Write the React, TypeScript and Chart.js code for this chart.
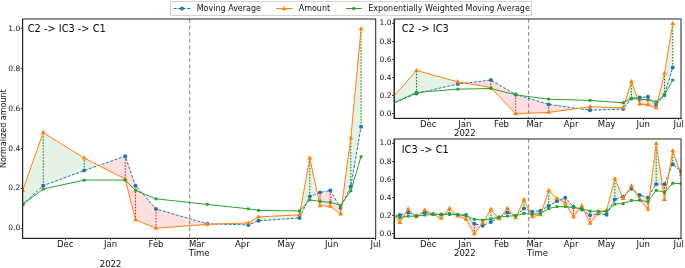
import React, { useEffect, useRef } from 'react';
import { Chart, registerables } from 'chart.js';
Chart.register(...registerables);

const FONT = 'DejaVu Sans';
const BLUE = '#1f77b4';
const ORANGE = '#ff7f0e';
const GREEN = '#2ca02c';
const FILL_ABOVE = 'rgba(0,128,0,0.10)';
const FILL_BELOW = 'rgba(255,0,0,0.12)';

// ---- Left panel: C2 -> IC3 -> C1
const LEFT_DATES = ['2021-11-02', '2021-11-16', '2021-12-14', '2022-01-11', '2022-01-18', '2022-02-01', '2022-03-08', '2022-04-05', '2022-04-12', '2022-05-10', '2022-05-17', '2022-05-24', '2022-05-31', '2022-06-07', '2022-06-14', '2022-06-21'];
const LEFT_AMOUNT = [0.19, 0.48, 0.352, 0.247, 0.043, 0.0, 0.02, 0.027, 0.057, 0.068, 0.352, 0.113, 0.11, 0.072, 0.452, 1.0];
const LEFT_MA = [0.12, 0.214, 0.29, 0.362, 0.214, 0.097, 0.023, 0.017, 0.038, 0.052, 0.16, 0.18, 0.19, 0.102, 0.21, 0.51];
const LEFT_EWMA = [0.12, 0.197, 0.242, 0.242, 0.19, 0.148, 0.12, 0.098, 0.09, 0.087, 0.143, 0.135, 0.13, 0.115, 0.188, 0.36];

// ---- Top right: C2 -> IC3
const TOP_DATES = ['2021-10-31', '2021-11-21', '2021-12-26', '2022-01-23', '2022-02-13', '2022-03-13', '2022-04-17', '2022-05-15', '2022-05-22', '2022-05-29', '2022-06-05', '2022-06-12', '2022-06-19', '2022-06-26'];
const TOP_AMOUNT = [0.166, 0.48, 0.354, 0.29, 0.0, 0.015, 0.078, 0.066, 0.354, 0.107, 0.1, 0.066, 0.447, 1.0];
const TOP_MA = [0.109, 0.225, 0.33, 0.373, 0.215, 0.104, 0.04, 0.052, 0.17, 0.18, 0.188, 0.096, 0.207, 0.513];
const TOP_EWMA = [0.108, 0.236, 0.273, 0.28, 0.21, 0.162, 0.148, 0.122, 0.17, 0.16, 0.155, 0.133, 0.207, 0.373];

// ---- Bottom right: IC3 -> C1
const BOT_DATES = ['2021-10-31', '2021-11-07', '2021-11-14', '2021-11-21', '2021-11-28', '2021-12-05', '2021-12-12', '2021-12-19', '2021-12-26', '2022-01-02', '2022-01-09', '2022-01-16', '2022-01-23', '2022-01-30', '2022-02-06', '2022-02-13', '2022-02-20', '2022-02-27', '2022-03-06', '2022-03-13', '2022-03-20', '2022-03-27', '2022-04-03', '2022-04-10', '2022-04-17', '2022-04-24', '2022-05-01', '2022-05-08', '2022-05-15', '2022-05-22', '2022-05-29', '2022-06-05', '2022-06-12', '2022-06-19', '2022-06-26', '2022-07-03'];
const BOT_AMOUNT = [0.236, 0.125, 0.273, 0.188, 0.262, 0.218, 0.17, 0.28, 0.196, 0.16, 0.0, 0.12, 0.27, 0.165, 0.28, 0.177, 0.38, 0.188, 0.21, 0.48, 0.39, 0.34, 0.185, 0.31, 0.115, 0.235, 0.26, 0.61, 0.39, 0.53, 0.38, 0.27, 1.0, 0.38, 0.92, 0.66];
const BOT_MA = [0.207, 0.207, 0.236, 0.196, 0.236, 0.218, 0.214, 0.218, 0.207, 0.207, 0.11, 0.089, 0.13, 0.18, 0.235, 0.2, 0.28, 0.245, 0.255, 0.31, 0.36, 0.4, 0.3, 0.27, 0.205, 0.225, 0.21, 0.38, 0.41, 0.5, 0.43, 0.4, 0.55, 0.55, 0.77, 0.69];
const BOT_EWMA = [0.21, 0.18, 0.195, 0.195, 0.207, 0.214, 0.214, 0.218, 0.214, 0.2, 0.159, 0.151, 0.165, 0.185, 0.195, 0.2, 0.225, 0.215, 0.225, 0.28, 0.3, 0.3, 0.29, 0.28, 0.25, 0.25, 0.25, 0.33, 0.335, 0.37, 0.37, 0.355, 0.48, 0.46, 0.56, 0.555];

const MONTH_TICKS = ['2021-12-01', '2022-01-01', '2022-02-01', '2022-03-01', '2022-04-01', '2022-05-01', '2022-06-01', '2022-07-01'];
const MONTH_LABELS = ['Dec', 'Jan', 'Feb', 'Mar', 'Apr', 'May', 'Jun', 'Jul'];
const YEAR_TICK = '2022-01-01';
const YEAR_LABEL = '2022';
const Y_TICKS = [0, 0.2, 0.4, 0.6, 0.8, 1.0];
const EVENT_DATE = '2022-02-24';
const LEGEND_LABELS = ['Moving Average', 'Amount', 'Exponentially Weighted Moving Average'];

const day = (s: string) =>
  (Date.UTC(+s.slice(0, 4), +s.slice(5, 7) - 1, +s.slice(8, 10)) - Date.UTC(2021, 11, 1)) / 86400000;

type PanelProps = {
  title: string;
  dates: string[];
  amount: number[];
  ma: number[];
  ewma: number[];
  xMin: string;
  xMax: string;
  left: number;
  top: number;
  width: number;
  height: number;
  padding: { left: number; top: number; right: number; bottom: number };
  yAxisWidth: number;
  xAxisHeight: number;
  yTitle?: string;
  xTitle?: string;
  xTitlePad?: number;
  yearInTicks: boolean;
  yearBelowY?: number;
  titleDx: number;
  titleDy: number;
};

function Panel(p: PanelProps) {
  const ref = useRef<HTMLCanvasElement | null>(null);
  useEffect(() => {
    if (!ref.current) return;
    const xs = p.dates.map(day);
    const pts = (vals: number[]) => vals.map((v, i) => ({ x: xs[i], y: v }));
    const tickFont = { family: FONT, size: 8.5, lineHeight: 1.05 };
    const gridOpts = { drawOnChartArea: false, drawTicks: true, tickLength: 2, color: '#222', lineWidth: 0.8 };
    const borderOpts = { display: true, color: '#222', width: 1 };

    const decor = {
      id: 'decor',
      beforeDatasetsDraw(chart: any) {
        const { ctx, chartArea: a, scales } = chart;
        const x = scales.x, y = scales.y;
        ctx.save();
        ctx.beginPath();
        ctx.rect(a.left, a.top, a.right - a.left, a.bottom - a.top);
        ctx.clip();
        const ex = x.getPixelForValue(day(EVENT_DATE));
        ctx.strokeStyle = '#8a8a8a';
        ctx.lineWidth = 1;
        ctx.setLineDash([4, 2.5]);
        ctx.beginPath();
        ctx.moveTo(ex, a.top);
        ctx.lineTo(ex, a.bottom);
        ctx.stroke();
        ctx.setLineDash([1.5, 1.5]);
        xs.forEach((xv, i) => {
          const px = x.getPixelForValue(xv);
          ctx.strokeStyle = p.amount[i] >= p.ma[i] ? '#008000' : '#ff0000';
          ctx.beginPath();
          ctx.moveTo(px, y.getPixelForValue(p.ma[i]));
          ctx.lineTo(px, y.getPixelForValue(p.amount[i]));
          ctx.stroke();
        });
        ctx.restore();
      },
      afterDraw(chart: any) {
        const { ctx, chartArea: a, scales } = chart;
        ctx.save();
        ctx.strokeStyle = '#222';
        ctx.lineWidth = 1;
        ctx.setLineDash([]);
        ctx.strokeRect(a.left, a.top, a.right - a.left, a.bottom - a.top);
        ctx.fillStyle = '#000';
        ctx.font = `9.8px "${FONT}"`;
        ctx.textBaseline = 'middle';
        ctx.textAlign = 'left';
        ctx.fillText(p.title, a.left + p.titleDx, a.top + p.titleDy);
        if (p.yearBelowY !== undefined) {
          ctx.font = `8.5px "${FONT}"`;
          ctx.textAlign = 'center';
          ctx.fillStyle = '#111';
          ctx.fillText(YEAR_LABEL, scales.x.getPixelForValue(day(YEAR_TICK)), p.yearBelowY);
        }
        ctx.restore();
      },
    };

    const chart = new Chart(ref.current, {
      type: 'line',
      data: {
        datasets: [
          {
            label: LEGEND_LABELS[0],
            data: pts(p.ma),
            borderColor: BLUE,
            backgroundColor: BLUE,
            borderWidth: 1,
            borderDash: [3, 1.5],
            pointStyle: 'circle',
            pointRadius: 2,
            pointBorderWidth: 0,
            fill: false,
            order: 3,
          },
          {
            label: LEGEND_LABELS[1],
            data: pts(p.amount),
            borderColor: ORANGE,
            backgroundColor: ORANGE,
            borderWidth: 1,
            pointStyle: 'triangle',
            pointRadius: 2.8,
            pointBorderWidth: 0,
            fill: { target: 0, above: FILL_ABOVE, below: FILL_BELOW },
            order: 2,
          },
          {
            label: LEGEND_LABELS[2],
            data: pts(p.ewma),
            borderColor: GREEN,
            backgroundColor: GREEN,
            borderWidth: 1,
            pointStyle: 'rect',
            pointRadius: 2,
            pointBorderWidth: 0,
            fill: false,
            order: 1,
          },
        ],
      } as any,
      options: {
        animation: false,
        responsive: false,
        devicePixelRatio: 1,
        events: [],
        layout: { padding: p.padding },
        plugins: { legend: { display: false }, tooltip: { enabled: false } },
        scales: {
          x: {
            type: 'linear',
            min: day(p.xMin),
            max: day(p.xMax),
            afterBuildTicks: (s: any) => {
              s.ticks = MONTH_TICKS.map((d) => ({ value: day(d) })).filter((t) => t.value >= s.min && t.value <= s.max);
            },
            afterFit: (s: any) => {
              s.height = p.xAxisHeight;
              s.paddingLeft = 0;
              s.paddingRight = 0;
            },
            ticks: {
              autoSkip: false,
              maxRotation: 0,
              minRotation: 0,
              padding: 0,
              color: '#111',
              font: tickFont,
              callback: (v: any) => {
                const i = MONTH_TICKS.findIndex((d) => day(d) === v);
                if (i < 0) return '';
                if (p.yearInTicks && MONTH_TICKS[i] === YEAR_TICK) return [MONTH_LABELS[i], YEAR_LABEL];
                return MONTH_LABELS[i];
              },
            },
            grid: gridOpts,
            border: borderOpts,
            title: p.xTitle
              ? {
                  display: true,
                  text: p.xTitle,
                  color: '#111',
                  font: { family: FONT, size: 8.5, lineHeight: 1.2 },
                  padding: { top: 0, bottom: p.xTitlePad ?? 0 },
                }
              : { display: false },
          },
          y: {
            type: 'linear',
            min: -0.05,
            max: 1.05,
            afterBuildTicks: (s: any) => {
              s.ticks = Y_TICKS.map((v) => ({ value: v }));
            },
            afterFit: (s: any) => {
              s.width = p.yAxisWidth;
              s.paddingTop = 0;
              s.paddingBottom = 0;
            },
            ticks: {
              padding: 0.5,
              color: '#111',
              font: { family: FONT, size: 7.5 },
              callback: (v: any) => Number(v).toFixed(1),
            },
            grid: gridOpts,
            border: borderOpts,
            title: p.yTitle
              ? {
                  display: true,
                  text: p.yTitle,
                  color: '#111',
                  font: { family: FONT, size: 8, lineHeight: 1.0 },
                  padding: 0,
                }
              : { display: false },
          },
        },
      } as any,
      plugins: [decor],
    });
    return () => chart.destroy();
  }, []);
  return (
    <canvas
      ref={ref}
      width={p.width}
      height={p.height}
      style={{ position: 'absolute', left: p.left, top: p.top, width: p.width, height: p.height }}
    />
  );
}

function Legend() {
  const textStyle: React.CSSProperties = {
    position: 'absolute',
    top: 0,
    lineHeight: '13px',
    fontSize: 8,
    fontFamily: FONT,
    color: '#111',
    whiteSpace: 'nowrap',
  };
  return (
    <div
      style={{
        position: 'absolute',
        left: 170,
        top: 0.5,
        width: 360,
        height: 13,
        border: '1px solid rgba(200,200,200,0.8)',
        borderRadius: 2,
        background: 'rgba(255,255,255,0.85)',
        zIndex: 5,
      }}
    >
      <svg width={360} height={13} style={{ position: 'absolute', left: 0, top: 0 }}>
        <line x1={2.7} x2={19.3} y1={6.5} y2={6.5} stroke={BLUE} strokeWidth={1} strokeDasharray="3 1.5" />
        <circle cx={11} cy={6.5} r={2} fill={BLUE} />
        <line x1={105} x2={121.7} y1={6.5} y2={6.5} stroke={ORANGE} strokeWidth={1} />
        <polygon points="113.3,4 115.8,8.2 110.8,8.2" fill={ORANGE} />
        <line x1={175} x2={190.7} y1={6.5} y2={6.5} stroke={GREEN} strokeWidth={1} />
        <rect x={181.4} y={5.1} width={2.8} height={2.8} fill={GREEN} />
      </svg>
      <span style={{ ...textStyle, left: 25.7 }}>{LEGEND_LABELS[0]}</span>
      <span style={{ ...textStyle, left: 127.7 }}>{LEGEND_LABELS[1]}</span>
      <span style={{ ...textStyle, left: 197.3 }}>{LEGEND_LABELS[2]}</span>
    </div>
  );
}

export default function App() {
  return (
    <div
      style={{
        position: 'fixed',
        left: 0,
        top: 0,
        width: 685,
        height: 268,
        background: '#fff',
        overflow: 'hidden',
      }}
    >
      <Panel
        title="C2 -> IC3 -> C1"
        dates={LEFT_DATES}
        amount={LEFT_AMOUNT}
        ma={LEFT_MA}
        ewma={LEFT_EWMA}
        xMin="2021-11-02"
        xMax="2022-07-01"
        left={0}
        top={0}
        width={385}
        height={268}
        padding={{ left: 0, top: 19, right: 9.3, bottom: 0 }}
        yAxisWidth={22.7}
        xAxisHeight={29.7}
        yTitle="Normalized amount"
        xTitle="Time"
        xTitlePad={9.0}
        yearInTicks={false}
        yearBelowY={265}
        titleDx={5}
        titleDy={10.7}
      />
      <Panel
        title="C2 -> IC3"
        dates={TOP_DATES}
        amount={TOP_AMOUNT}
        ma={TOP_MA}
        ewma={TOP_EWMA}
        xMin="2021-11-02"
        xMax="2022-07-03"
        left={376}
        top={0}
        width={309}
        height={140}
        padding={{ left: 0, top: 19, right: 3.5, bottom: 0 }}
        yAxisWidth={18}
        xAxisHeight={21.7}
        yearInTicks={true}
        titleDx={7.7}
        titleDy={10.3}
      />
      <Panel
        title="IC3 -> C1"
        dates={BOT_DATES}
        amount={BOT_AMOUNT}
        ma={BOT_MA}
        ewma={BOT_EWMA}
        xMin="2021-11-02"
        xMax="2022-07-03"
        left={376}
        top={135}
        width={309}
        height={133}
        padding={{ left: 0, top: 4, right: 3.5, bottom: 0 }}
        yAxisWidth={18}
        xAxisHeight={29.7}
        xTitle="Time"
        xTitlePad={9.6}
        yearInTicks={true}
        titleDx={7.7}
        titleDy={11.5}
      />
      <Legend />
    </div>
  );
}
